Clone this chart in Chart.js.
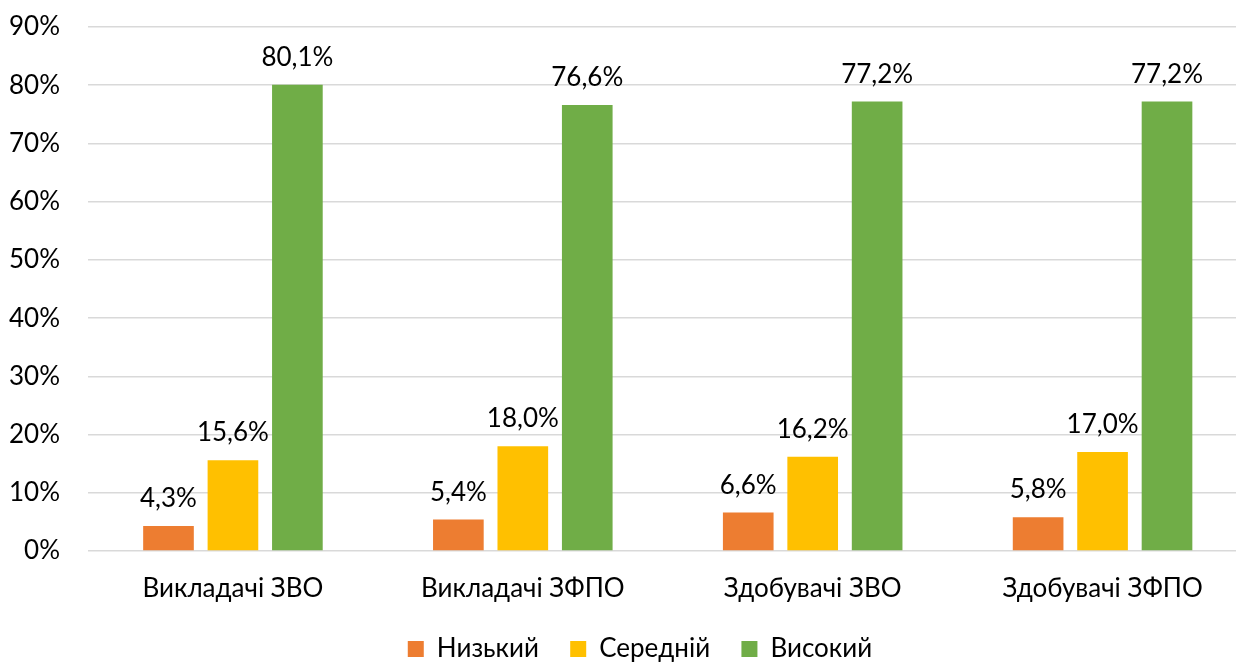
<!DOCTYPE html>
<html>
<head>
<meta charset="utf-8">
<script src="https://cdn.jsdelivr.net/npm/chart.js@4.4.1/dist/chart.umd.min.js"></script>
<style>
  html, body { margin: 0; padding: 0; background: #fff; overflow: hidden; }
  #wrap { position: absolute; left: 0; top: 0; width: 1280px; height: 662px; }
</style>
</head>
<body>
<div id="wrap"><canvas id="c" width="1280" height="662"></canvas></div>
<script>
const categories = ['Викладачі ЗВО', 'Викладачі ЗФПО', 'Здобувачі ЗВО', 'Здобувачі ЗФПО'];
const seriesNames = ['Низький', 'Середній', 'Високий'];
const lowValues = [4.3, 5.4, 6.6, 5.8];
const midValues = [15.6, 18.0, 16.2, 17.0];
const highValues = [80.1, 76.6, 77.2, 77.2];
const yTicks = [0, 10, 20, 30, 40, 50, 60, 70, 80, 90];

const FONT = 'Lato, "Open Sans", sans-serif';
const FS = 26;

const valueLabels = {
  id: 'valueLabels',
  afterDatasetsDraw(chart) {
    const ctx = chart.ctx;
    ctx.save();
    ctx.font = FS + 'px ' + FONT;
    ctx.fillStyle = '#000';
    ctx.textAlign = 'center';
    ctx.textBaseline = 'alphabetic';
    chart.data.datasets.forEach((ds, i) => {
      const meta = chart.getDatasetMeta(i);
      meta.data.forEach((el, j) => {
        const v = ds.data[j];
        ctx.fillText(v.toFixed(1).replace('.', ',') + '%', el.x, el.y - 19);
      });
    });
    ctx.restore();
  }
};

new Chart(document.getElementById('c'), {
  type: 'bar',
  data: {
    labels: categories,
    datasets: [
      { label: seriesNames[0], data: lowValues, backgroundColor: '#ED7D31' },
      { label: seriesNames[1], data: midValues, backgroundColor: '#FFC000' },
      { label: seriesNames[2], data: highValues, backgroundColor: '#70AD47' }
    ]
  },
  options: {
    responsive: false,
    animation: false,
    devicePixelRatio: 1,
    datasets: { bar: { categoryPercentage: 0.667, barPercentage: 0.786 } },
    layout: { padding: { left: 0, right: 0, top: 27, bottom: 0 } },
    plugins: {
      legend: {
        position: 'bottom',
        maxHeight: 57.3,
        labels: {
          font: { size: FS, family: FONT },
          color: '#000',
          boxWidth: 16,
          boxHeight: 16,
          padding: 31.3
        }
      },
      tooltip: { enabled: false }
    },
    scales: {
      x: {
        grid: { display: false, drawTicks: false, tickLength: 0 },
        border: { display: false },
        afterFit(scale) { scale.height = 22.5 + FS * 1.2; },
        ticks: { font: { size: FS, family: FONT }, color: '#000', padding: 22.5, maxRotation: 0 }
      },
      y: {
        min: 0, max: 90,
        afterFit(scale) { scale.width = 88; },
        afterBuildTicks(scale) { scale.ticks = yTicks.map(v => ({ value: v })); },
        grid: { color: '#D9D9D9', lineWidth: 1.5, drawTicks: true, tickLength: 28, tickColor: 'rgba(0,0,0,0)' },
        border: { display: false },
        ticks: {
          font: { size: FS, family: FONT }, color: '#000', padding: 0,
          callback: v => v + '%'
        }
      },
      yRight: {
        type: 'linear',
        position: 'right',
        display: true,
        afterFit(scale) { scale.width = 32.5; },
        grid: { display: false, drawTicks: false },
        border: { display: false },
        ticks: { display: false }
      }
    }
  },
  plugins: [valueLabels]
});
</script>
</body>
</html>
